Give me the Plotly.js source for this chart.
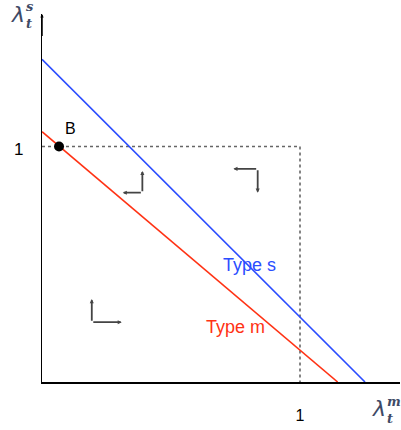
<!DOCTYPE html>
<html>
<head>
<meta charset="utf-8">
<script src="https://cdn.plot.ly/plotly-3.0.1.min.js"></script>
<style>
  html, body { margin: 0; padding: 0; background: #fff; }
  #chart { width: 401px; height: 430px; }
</style>
</head>
<body>
<div id="chart"></div>
<script>
// Boundary lines in the (lambda_m, lambda_s) plane: [x-intercept, y-intercept]
const typeS = { xInt: 1.252, yInt: 1.370 };
const typeM = { xInt: 1.146, yInt: 1.063 };

// Reference square (1, 1)
const unitX = [0, 1, 1];
const unitY = [1, 1, 0];

// Point B on the Type m line
const pointB = { x: 0.066, y: 1.0 };

// Tick labels
const xTicks = [1];
const yTicks = [1];
const tickText = ['1'];

// Direction glyphs: corner point plus the two arrow tips
const glyphs = [
  { corner: [0.389, 0.804], tips: [[0.313, 0.804], [0.389, 0.896]] },
  { corner: [0.836, 0.905], tips: [[0.742, 0.905], [0.836, 0.804]] },
  { corner: [0.193, 0.254], tips: [[0.193, 0.352], [0.309, 0.254]] }
];

const W = 401, H = 430;
const M = { l: 42, r: 1, t: 14, b: 48 };
const xRange = [0, 1.3876];
const yRange = [0, 1.5626];

// pixel -> paper coordinates, for text placed outside the plotting area
const pw = W - M.l - M.r, ph = H - M.t - M.b;
const px = v => (v - M.l) / pw;
const py = v => (H - M.b - v) / ph;

const blue = '#2b4dff';
const red = '#ff3214';
const sans = 'Liberation Sans, Arial, sans-serif';

const traces = [
  {
    x: unitX, y: unitY, mode: 'lines', type: 'scatter',
    line: { color: '#666', width: 1.6, dash: 'dot' }, hoverinfo: 'skip'
  },
  {
    x: [0, typeS.xInt], y: [typeS.yInt, 0], mode: 'lines', type: 'scatter',
    line: { color: blue, width: 1.6 }, cliponaxis: false
  },
  {
    x: [0, typeM.xInt], y: [typeM.yInt, 0], mode: 'lines', type: 'scatter',
    line: { color: red, width: 1.6 }, cliponaxis: false
  },
  {
    x: [pointB.x], y: [pointB.y], mode: 'markers', type: 'scatter',
    marker: { color: '#000', size: 10 }, cliponaxis: false
  }
];

const annotations = [];

// direction glyph arrows
glyphs.forEach(g => {
  g.tips.forEach(t => {
    annotations.push({
      x: t[0], y: t[1], xref: 'x', yref: 'y',
      ax: g.corner[0], ay: g.corner[1], axref: 'x', ayref: 'y',
      text: '', showarrow: true, arrowhead: 2, arrowsize: 0.45,
      arrowwidth: 1.8, arrowcolor: '#444', standoff: 0, startstandoff: 0
    });
  });
});

// arrow tip on the vertical axis
annotations.push({
  x: 0, y: yRange[1], xref: 'x', yref: 'y',
  ax: 0, ay: yRange[1] - 0.1, axref: 'x', ayref: 'y',
  text: '', showarrow: true, arrowhead: 2, arrowsize: 0.45,
  arrowwidth: 1.5, arrowcolor: '#000', standoff: 0
});

const lab = (x, y, text, size, color, extra) => Object.assign({
  x: px(x), y: py(y), xref: 'paper', yref: 'paper',
  text: text, showarrow: false, xanchor: 'center', yanchor: 'middle',
  font: { family: sans, size: size, color: color }
}, extra || {});

annotations.push(lab(70.7, 128, 'B', 16, '#000'));
annotations.push(lab(249, 265, 'Type s', 18, blue));
annotations.push(lab(235, 327, 'Type m', 18, red));
annotations.push(lab(18, 149.5, tickText[0], 17, '#000'));

// axis symbols: lambda with stacked superscript / subscript
const symColor = '#3e4a66';
const lam = (x, y, anchorY) => lab(x, y, '<i>λ</i>', 22, symColor,
  { xanchor: 'right', yanchor: anchorY || 'middle', borderpad: 0,
    font: { family: 'DejaVu Sans, sans-serif', size: 22, color: symColor } });
const idx = (x, y, top, bottom) => lab(x, y, '<b><i>' + top + '<br>' + bottom + '</i></b>', 13, symColor,
  { xanchor: 'left', align: 'left', borderpad: 0,
    font: { family: 'DejaVu Serif, serif', size: 13, color: symColor } });
annotations.push(lam(26, 0.5, 'top'));
annotations.push(idx(25, 14.5, 's', 't'));
annotations.push(lam(387, 408.5));
annotations.push(idx(385.5, 409.5, 'm', 't'));

const axisBase = {
  showgrid: false, zeroline: false, showline: true,
  linecolor: '#000', linewidth: 1.5, ticks: '', fixedrange: true,
  tickfont: { family: sans, size: 16, color: '#000' },
  ticktext: tickText
};

const layout = {
  width: W, height: H,
  margin: M,
  paper_bgcolor: '#fff', plot_bgcolor: '#fff',
  showlegend: false,
  xaxis: Object.assign({}, axisBase, {
    range: xRange, tickvals: xTicks, ticklabelstandoff: 18
  }),
  yaxis: Object.assign({}, axisBase, {
    range: yRange, tickvals: yTicks, showticklabels: false
  }),
  annotations: annotations
};

Plotly.newPlot('chart', traces, layout, { staticPlot: true, displayModeBar: false });
</script>
</body>
</html>
